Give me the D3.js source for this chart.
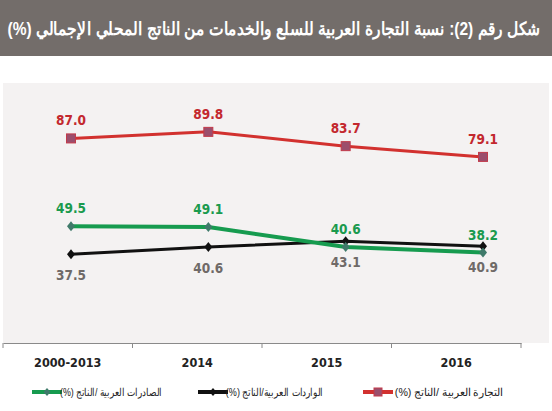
<!DOCTYPE html>
<meta charset='utf-8'>
<style>
body { margin: 0; background: #fff; }
text { font-family: "Liberation Sans Narrow", "DejaVu Sans Condensed", Arial, sans-serif; }
.title { font-family: "Liberation Sans", Arial, sans-serif; font-weight: bold; }
.lbl { font-weight: bold; font-size: 13.5px; }
.tick text { font-weight: bold; font-size: 12.5px; fill: #222; }
.legend text { font-family: "Liberation Sans", Arial, sans-serif; font-size: 11px; fill: #222; }
</style>
<svg width='552' height='411'></svg>
<script src='https://d3js.org/d3.v7.min.js'></script>
<script>

var years = ['2000-2013', '2014', '2015', '2016'];
var tradeVals = [87.0, 89.8, 83.7, 79.1];     // التجارة العربية
var importVals = [37.5, 40.6, 43.1, 40.9];    // الواردات العربية
var exportVals = [49.5, 49.1, 40.6, 38.2];    // الصادرات العربية
var titleText = 'شكل رقم (2): نسبة التجارة العربية للسلع والخدمات من الناتج المحلي الإجمالي (%)';

var svg = d3.select('svg'),
    width = +svg.attr('width'),
    height = +svg.attr('height');

// squeeze an rtl text so its right edge sits at xr and its width is w
function fitText(sel, xr, yb, w) {
  sel.attr('x', 0).attr('y', 0).attr('direction', 'rtl').attr('text-anchor', 'start');
  var bb = sel.node().getBBox();
  var k = w / bb.width;
  sel.attr('transform', 'translate(' + xr + ',' + yb + ') scale(' + k + ',1) translate(' + (-(bb.x + bb.width)) + ',0)');
}

// title bar
svg.append('rect').attr('x', 0).attr('y', 0).attr('width', width).attr('height', 56).attr('fill', '#736d6a');
var title = svg.append('text').attr('class', 'title')
    .attr('font-size', 18)
    .attr('fill', '#fff')
    .text(titleText);
fitText(title, 540, 35, 525);

// plot background
svg.append('rect').attr('x', 3).attr('y', 83).attr('width', 546).attr('height', 260).attr('fill', '#f4f2f2');

var y = d3.scaleLinear().domain([0, 100]).range([342, 108]);
var xBand = d3.scaleBand().domain(years).range([3, 521]);
var xPt = d3.scalePoint().domain(years).range([71, 483]);

var xAxis = svg.append('g').attr('class', 'x axis')
    .attr('transform', 'translate(0,343)')
    .call(d3.axisBottom(xBand).tickSize(0).tickPadding(10));
xAxis.select('.domain').attr('stroke', '#8a8a8a').attr('stroke-width', 1.2);
xAxis.selectAll('.tick text').attr('dy', '1.1em');
// boundary ticks between categories
svg.append('g').selectAll('line')
    .data(years.map(function(d) { return xBand(d); }).concat([xBand.range()[1]]))
    .enter().append('line')
    .attr('x1', function(d) { return d; }).attr('x2', function(d) { return d; })
    .attr('y1', 343).attr('y2', 348)
    .attr('stroke', '#8a8a8a');

var series = [
  { name: 'التجارة العربية /الناتج (%)', vals: tradeVals, color: '#d2312f', width: 3, marker: 'square', labelColor: '#c3282e', labelDy: -13 },
  { name: 'الواردات العربية/الناتج (%)', vals: importVals, color: '#111', width: 3, marker: 'diamond', labelColor: '#6f6a68', labelDy: 26 },
  { name: 'الصادرات العربية /الناتج (%)', vals: exportVals, color: '#169b4f', width: 4, marker: 'diamond', labelColor: '#1a9a4e', labelDy: -13 }
];

var line = d3.line()
    .x(function(d, i) { return xPt(years[i]); })
    .y(function(d) { return y(d); });

// draw black first, then green, then red
[series[1], series[2], series[0]].forEach(function(s) {
  svg.append('path')
      .attr('d', line(s.vals))
      .attr('fill', 'none')
      .attr('stroke', s.color)
      .attr('stroke-width', s.width);
  var g = svg.append('g');
  s.vals.forEach(function(v, i) {
    var cx = xPt(years[i]), cy = y(v);
    if (s.marker === 'square') {
      g.append('rect').attr('x', cx - 4.5).attr('y', cy - 4.5).attr('width', 9).attr('height', 9)
        .attr('fill', '#9b4e6c').attr('stroke', '#c23a4a').attr('stroke-width', 1);
    } else {
      g.append('path').attr('d', 'M' + cx + ',' + (cy - 5) + 'L' + (cx + 4) + ',' + cy + 'L' + cx + ',' + (cy + 5) + 'L' + (cx - 4) + ',' + cy + 'Z')
        .attr('fill', s.color === '#111' ? '#111' : '#3f7a6a');
    }
    svg.append('text').attr('class', 'lbl')
        .attr('x', cx).attr('y', cy + s.labelDy)
        .attr('text-anchor', 'middle')
        .attr('fill', s.labelColor)
        .text(v.toFixed(1));
  });
});

// legend (right to left)
var legendPos = [
  { s: series[0], lx: 363, tx: 503, tw: 107 },
  { s: series[1], lx: 198, tx: 323, tw: 95 },
  { s: series[2], lx: 32, tx: 162, tw: 99 }
];
var legend = svg.append('g').attr('class', 'legend');
legendPos.forEach(function(p) {
  var ly = 392;
  legend.append('line').attr('x1', p.lx).attr('x2', p.lx + 30).attr('y1', ly).attr('y2', ly)
      .attr('stroke', p.s.color).attr('stroke-width', 4);
  if (p.s.marker === 'square') {
    legend.append('rect').attr('x', p.lx + 11).attr('y', ly - 4).attr('width', 8).attr('height', 8)
        .attr('fill', '#9b4e6c').attr('stroke', '#c23a4a');
  } else {
    var cx = p.lx + 15;
    legend.append('path').attr('d', 'M' + cx + ',' + (ly - 4) + 'L' + (cx + 3.5) + ',' + ly + 'L' + cx + ',' + (ly + 4) + 'L' + (cx - 3.5) + ',' + ly + 'Z')
        .attr('fill', p.s.color === '#111' ? '#111' : '#3f7a6a');
  }
  var t = legend.append('text').text(p.s.name);
  fitText(t, p.tx, ly + 4, p.tw);
});

</script>
